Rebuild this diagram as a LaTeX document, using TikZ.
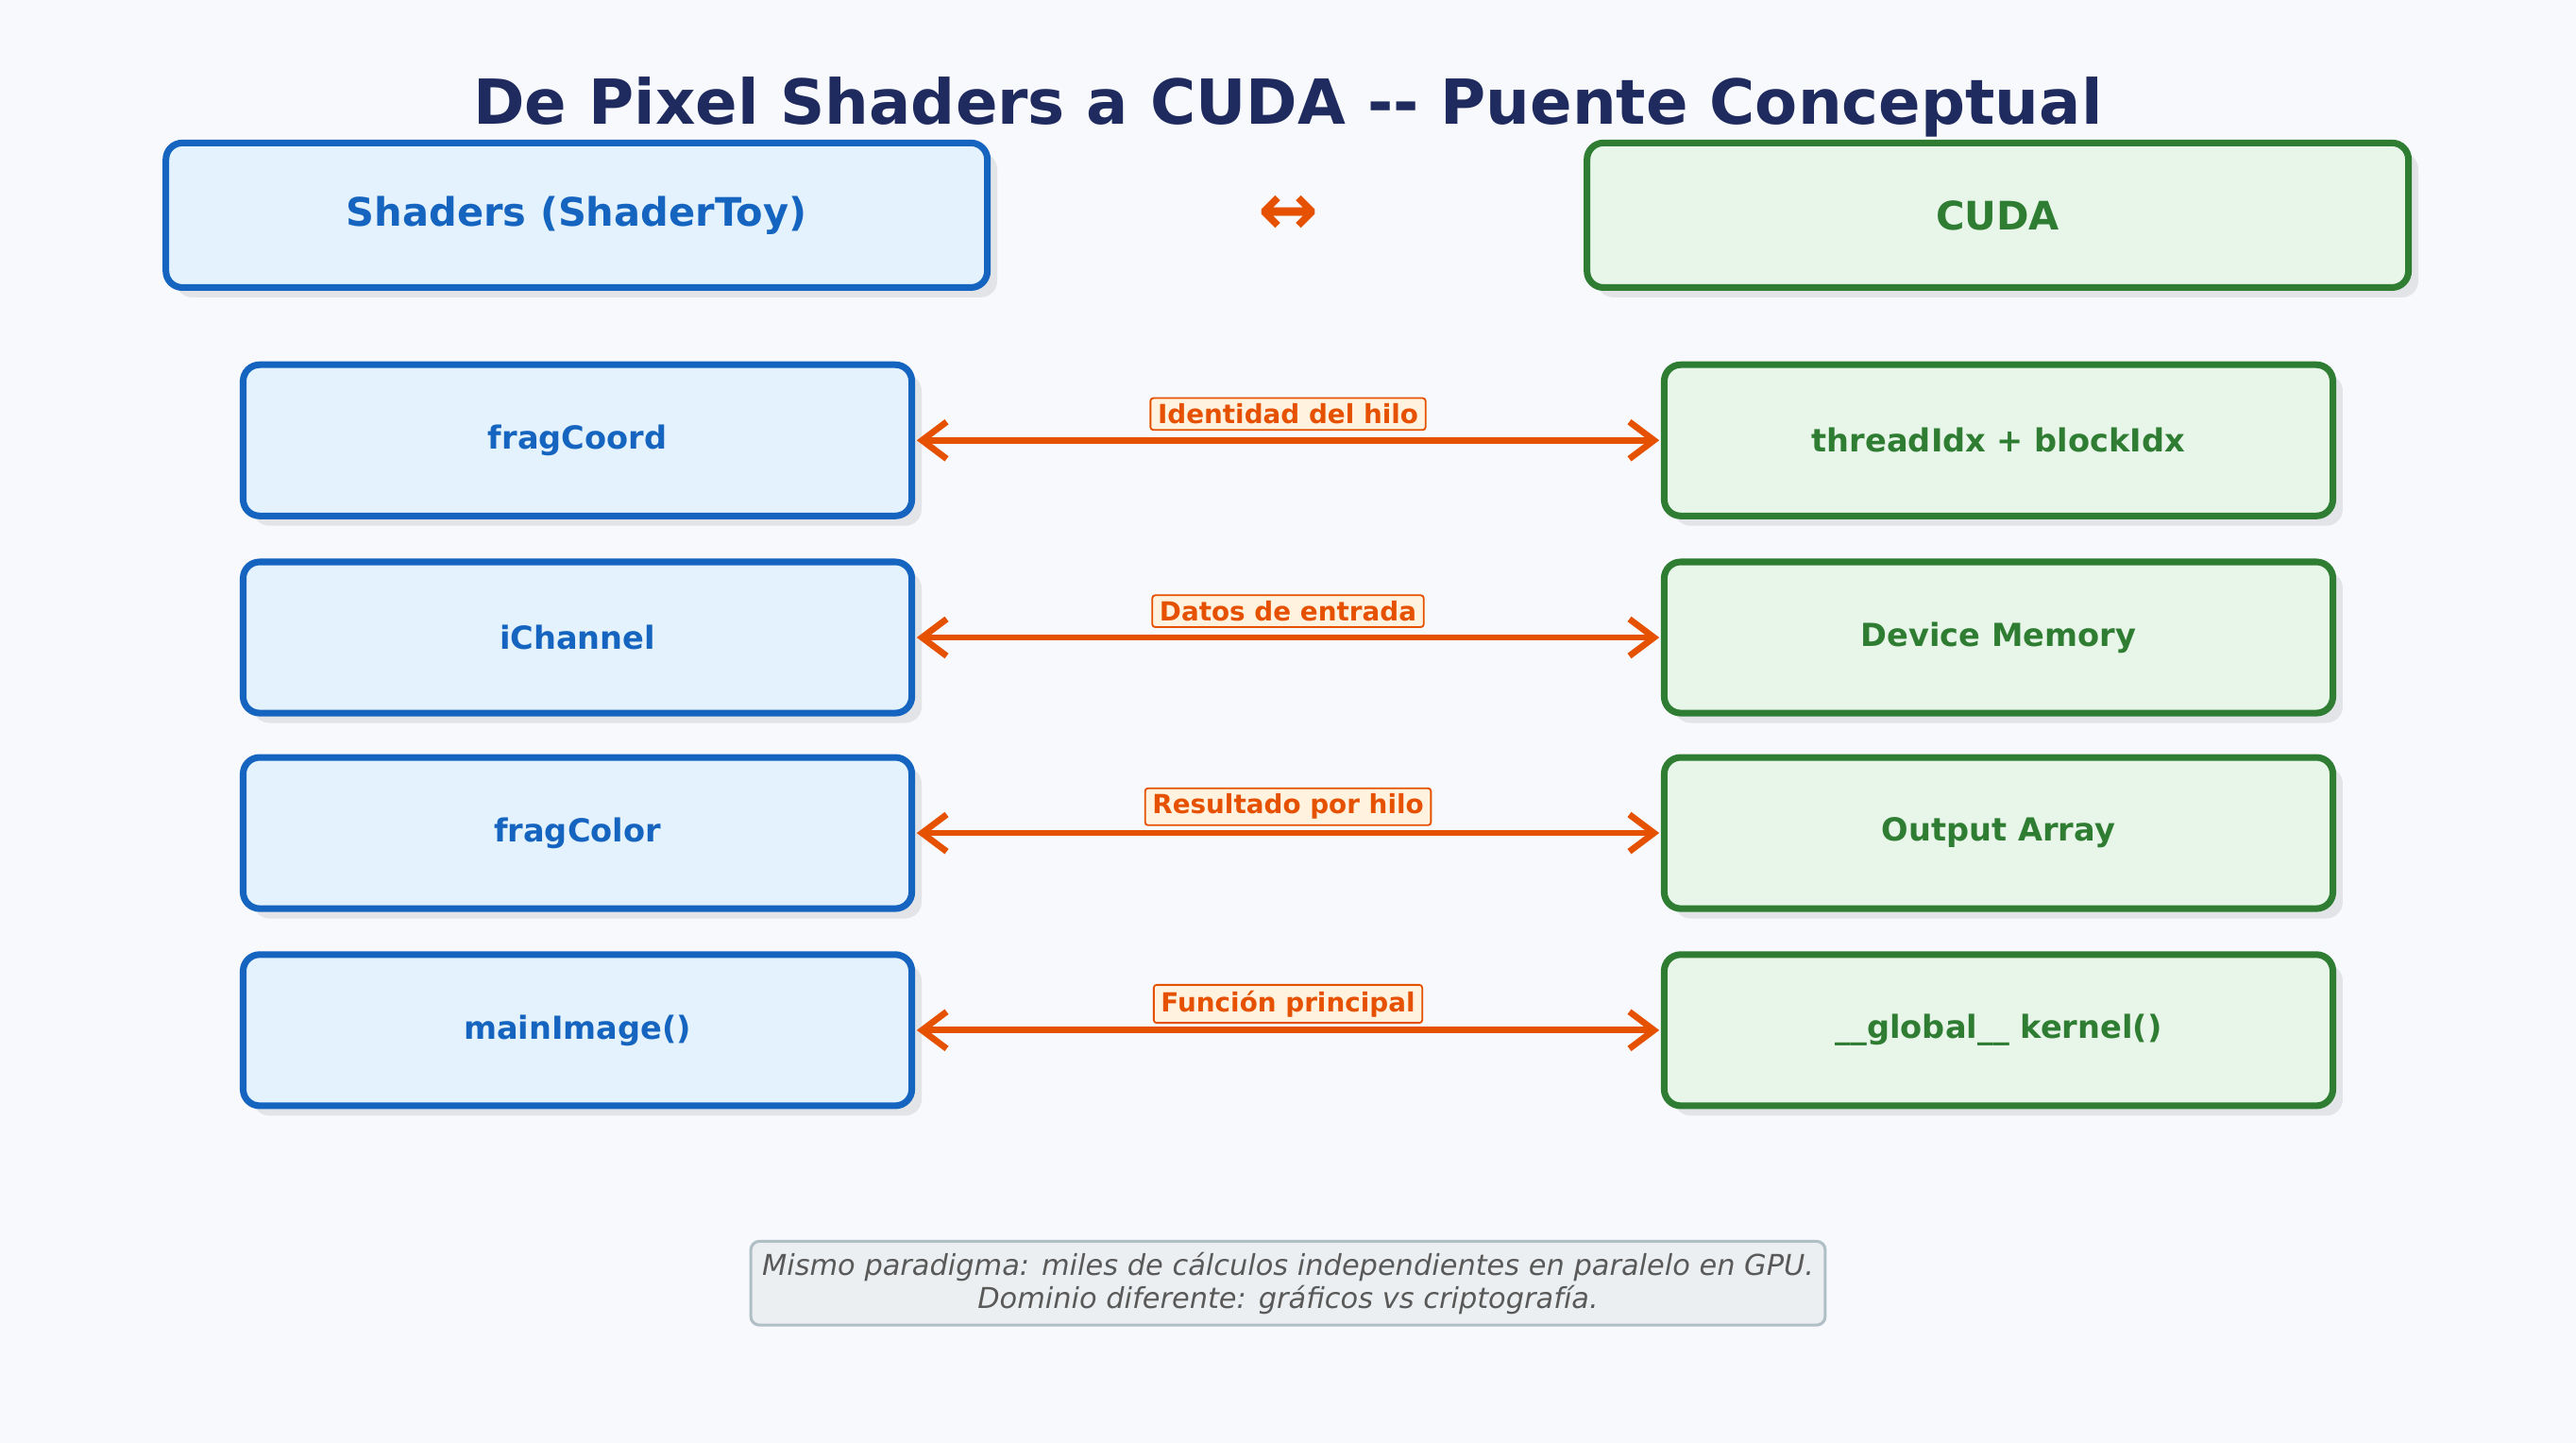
\documentclass[tikz,border=0pt]{standalone}
\usepackage{fontspec}
\setmainfont{DejaVu Sans}
\usetikzlibrary{arrows.meta}
\definecolor{bg}{HTML}{F7F9FC}
\definecolor{navy}{HTML}{1F2A5E}
\definecolor{bl}{HTML}{1565C0}
\definecolor{blf}{HTML}{E3F2FD}
\definecolor{gr}{HTML}{2E7D32}
\definecolor{grf}{HTML}{E8F5E9}
\definecolor{og}{HTML}{E65100}
\definecolor{ogf}{HTML}{FFF3E0}
\definecolor{shd}{HTML}{E2E4E8}
\definecolor{fb}{HTML}{B0BEC5}
\definecolor{ff}{HTML}{ECEFF1}
\tikzset{
 box/.style={rounded corners=0.2cm, line width=2.3pt},
 lbox/.style={box, draw=bl, fill=blf},
 rbox/.style={box, draw=gr, fill=grf},
 sh/.style={rounded corners=0.2cm, fill=shd},
 ltxt/.style={text=bl, font=\bfseries\fontsize{11}{12}\selectfont},
 rtxt/.style={text=gr, font=\bfseries\fontsize{11}{12}\selectfont},
 conn/.style={draw=og, line width=2.2pt, {Straight Barb[length=0.3cm,width=0.45cm]}-{Straight Barb[length=0.3cm,width=0.45cm]}},
 lab/.style={draw=og, fill=ogf, text=og, line width=0.6pt, rounded corners=1pt, inner xsep=2.5pt, inner ysep=2pt, font=\bfseries\fontsize{9.1}{10}\selectfont},
}
\begin{document}
\begin{tikzpicture}[x=0.02cm,y=-0.02cm]
\useasboundingbox (0,0) rectangle (1568,878);
\fill[bg] (0,0) rectangle (1568,878);
\node[text=navy, font=\bfseries\fontsize{21.5}{24}\selectfont] (title) at (784,65) {De Pixel Shaders a CUDA {-}{-} Puente Conceptual};
% headers
\fill[sh] (107,93) rectangle (607,181);
\fill[sh] (972,93) rectangle (1472,181);
\draw[lbox] (101,87) rectangle (601,175);
\draw[rbox] (966,87) rectangle (1466,175);
\node[text=bl, font=\bfseries\fontsize{13.6}{16}\selectfont] (hl) at (351,131) {Shaders (ShaderToy)};
\node[text=gr, font=\bfseries\fontsize{13.6}{16}\selectfont] (hr) at (1216,131) {CUDA};
\node[text=og, font=\bfseries\fontsize{25}{26}\selectfont] (harr) at (784,131) {↔};
% rows
\foreach \y/\a/\b/\c/\n in {268/fragCoord/threadIdx + blockIdx/Identidad del hilo/1,
 388/iChannel/Device Memory/Datos de entrada/2,
 507/fragColor/Output Array/Resultado por hilo/3,
 627/mainImage()/\_\_global\_\_ kernel()/Función principal/4}{
 \fill[sh] (154,\y-40) rectangle (561,\y+52);
 \fill[sh] (1019,\y-40) rectangle (1426,\y+52);
 \draw[lbox] (148,\y-46) rectangle (555,\y+46);
 \draw[rbox] (1013,\y-46) rectangle (1420,\y+46);
 \node[ltxt] (l\n) at (351.5,\y) {\a};
 \node[rtxt] (r\n) at (1216.5,\y) {\b};
 \coordinate (la\n) at (558,\y);
 \coordinate (ra\n) at (1010,\y);
 \draw[conn] (la\n) -- (ra\n);
 \node[lab] (t\n) at (784,\y-16) {\c};
}
\node[draw=fb, fill=ff, line width=1pt, rounded corners=3pt, minimum width=654*0.02cm, minimum height=51*0.02cm, align=center, text=black!65, font=\itshape\fontsize{9.95}{11.5}\selectfont] (foot) at (784,781)
 {Mismo paradigma: miles de cálculos independientes en paralelo en GPU.\\Dominio diferente: gráficos vs criptografía.};
\end{tikzpicture}
\end{document}
